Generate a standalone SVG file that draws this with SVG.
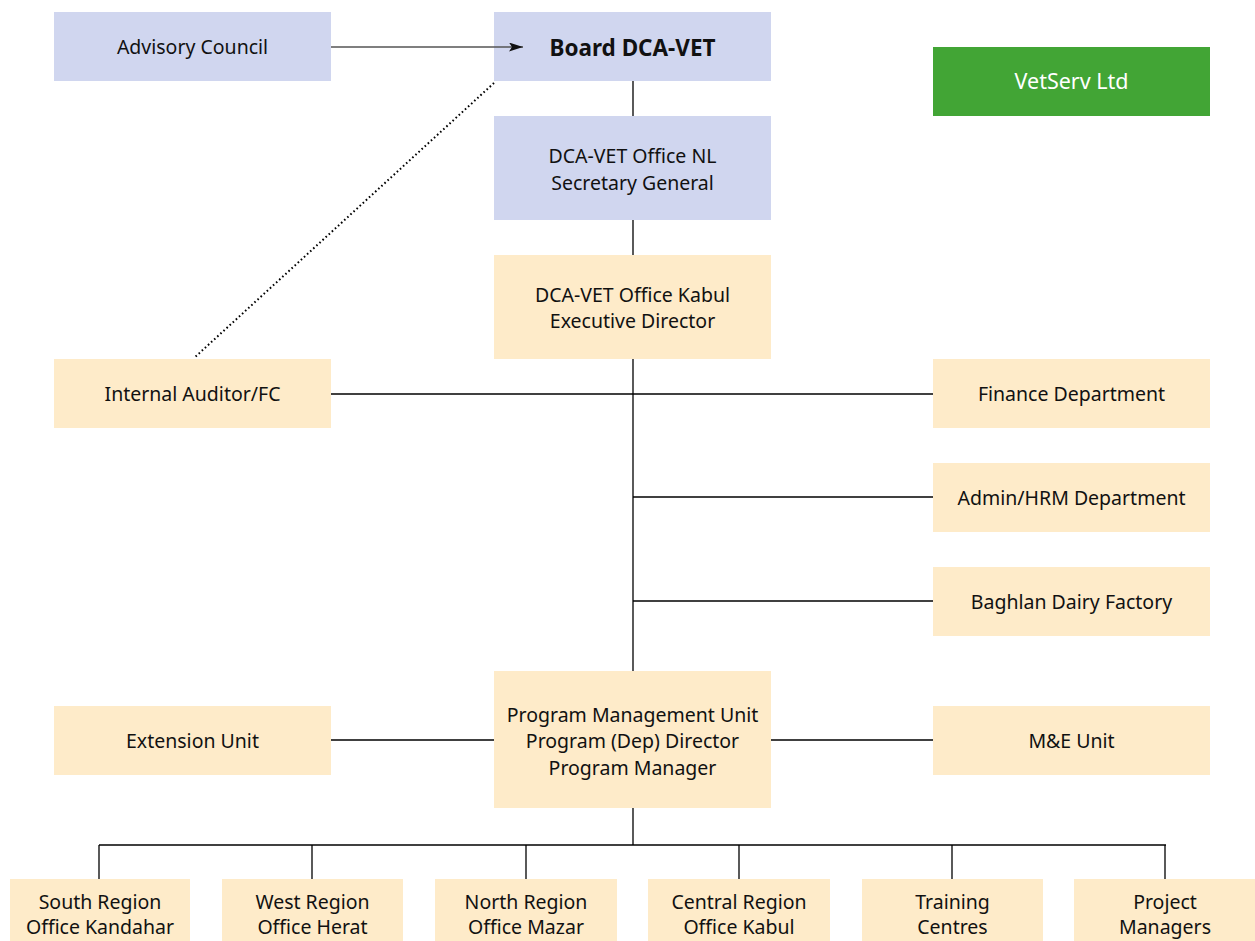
<svg xmlns="http://www.w3.org/2000/svg" width="1255" height="941" viewBox="0 0 1255 941">
<defs>
<marker id="arr" markerWidth="14" markerHeight="9" refX="14" refY="4.5" orient="auto" markerUnits="userSpaceOnUse">
<path d="M0,0 L14,4.5 L0,9 L3,4.5 Z" fill="#111"/>
</marker>
<style>
.b{fill:#d0d6ef}
.y{fill:#feebc9}
.g{fill:#42a535}
text{font-family:"Noto Sans","Open Sans",sans-serif;font-size:19.5px;fill:#111;text-anchor:middle}
.w{fill:#fff;font-size:21.5px}
.bold{font-weight:bold;font-size:22.5px}
.ln{stroke:#000;stroke-width:1.3;fill:none}
</style>
</defs>
<rect width="1255" height="941" fill="#fff"/>
<g id="advisory"><rect class="b" x="54" y="12" width="277" height="69"/><text x="192.5" y="54">Advisory Council</text></g>
<g id="board"><rect class="b" x="494" y="12" width="277" height="69"/><text class="bold" x="632.5" y="56">Board DCA-VET</text></g>
<g id="vetserv"><rect class="g" x="933" y="47" width="277" height="69"/><text class="w" x="1071.5" y="89">VetServ Ltd</text></g>
<g id="officenl"><rect class="b" x="494" y="116" width="277" height="104"/><text x="632.5" y="163">DCA-VET Office NL</text><text x="632.5" y="190">Secretary General</text></g>
<g id="kabul"><rect class="y" x="494" y="255" width="277" height="104"/><text x="632.5" y="302">DCA-VET Office Kabul</text><text x="632.5" y="328">Executive Director</text></g>
<g id="auditor"><rect class="y" x="54" y="359" width="277" height="69"/><text x="192.5" y="401">Internal Auditor/FC</text></g>
<g id="finance"><rect class="y" x="933" y="359" width="277" height="69"/><text x="1071.5" y="401">Finance Department</text></g>
<g id="admin"><rect class="y" x="933" y="463" width="277" height="69"/><text x="1071.5" y="505">Admin/HRM Department</text></g>
<g id="baghlan"><rect class="y" x="933" y="567" width="277" height="69"/><text x="1071.5" y="609">Baghlan Dairy Factory</text></g>
<g id="pmu"><rect class="y" x="494" y="671" width="277" height="137"/><text x="632.5" y="722">Program Management Unit</text><text x="632.5" y="748">Program (Dep) Director</text><text x="632.5" y="775">Program Manager</text></g>
<g id="extension"><rect class="y" x="54" y="706" width="277" height="69"/><text x="192.5" y="748">Extension Unit</text></g>
<g id="me"><rect class="y" x="933" y="706" width="277" height="69"/><text x="1071.5" y="748">M&amp;E Unit</text></g>
<g id="south"><rect class="y" x="10" y="879" width="180" height="62"/><text x="100" y="909">South Region</text><text x="100" y="934">Office Kandahar</text></g>
<g id="west"><rect class="y" x="222" y="879" width="181" height="62"/><text x="312.5" y="909">West Region</text><text x="312.5" y="934">Office Herat</text></g>
<g id="north"><rect class="y" x="435" y="879" width="182" height="62"/><text x="526" y="909">North Region</text><text x="526" y="934">Office Mazar</text></g>
<g id="central"><rect class="y" x="648" y="879" width="182" height="62"/><text x="739" y="909">Central Region</text><text x="739" y="934">Office Kabul</text></g>
<g id="training"><rect class="y" x="862" y="879" width="181" height="62"/><text x="952.5" y="909">Training</text><text x="952.5" y="934">Centres</text></g>
<g id="project"><rect class="y" x="1074" y="879" width="181" height="62"/><text x="1165" y="909">Project</text><text x="1165" y="934">Managers</text></g>
<g id="connectors">
<line x1="331" y1="47" x2="523" y2="47" stroke="#555" stroke-width="1.5" marker-end="url(#arr)"/>
<line x1="494" y1="83" x2="194" y2="358" stroke="#000" stroke-width="2" stroke-dasharray="1.6 2.6"/>
<line class="ln" x1="633" y1="81" x2="633" y2="116"/>
<line class="ln" x1="633" y1="220" x2="633" y2="255"/>
<line class="ln" x1="633" y1="359" x2="633" y2="671"/>
<line class="ln" x1="331" y1="394" x2="933" y2="394"/>
<line class="ln" x1="633" y1="497" x2="933" y2="497"/>
<line class="ln" x1="633" y1="601" x2="933" y2="601"/>
<line class="ln" x1="331" y1="740" x2="494" y2="740"/>
<line class="ln" x1="771" y1="740" x2="933" y2="740"/>
<line class="ln" x1="633" y1="808" x2="633" y2="845"/>
<line class="ln" x1="99" y1="845" x2="1166" y2="845"/>
<line class="ln" x1="99" y1="845" x2="99" y2="879"/>
<line class="ln" x1="312" y1="845" x2="312" y2="879"/>
<line class="ln" x1="526" y1="845" x2="526" y2="879"/>
<line class="ln" x1="739" y1="845" x2="739" y2="879"/>
<line class="ln" x1="952" y1="845" x2="952" y2="879"/>
<line class="ln" x1="1165" y1="845" x2="1165" y2="879"/>
</g>
</svg>
